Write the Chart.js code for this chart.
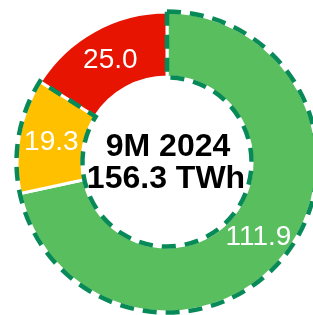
<!DOCTYPE html>
<html>
<head>
<meta charset="utf-8">
<script src="https://cdn.jsdelivr.net/npm/chart.js@4/dist/chart.umd.min.js"></script>
<style>
html,body{margin:0;padding:0;overflow:hidden;background:#fff;width:313px;height:315px;}
#wrap{position:absolute;left:0;top:0;width:334px;height:324px;}
</style>
</head>
<body>
<div id="wrap"><canvas id="c"></canvas></div>
<script>
const categories = ["Green", "Yellow", "Red"];
const values = [111.9, 19.3, 25.0];
const colors = ["#58be5e", "#ffc000", "#e61400"];
const centerLines = ["9M 2024", "156.3 TWh"];
const groupedCount = 2; // first two segments outlined with dashes

const dashOutline = {
  id: 'dashOutline',
  afterDatasetsDraw(chart) {
    const meta = chart.getDatasetMeta(0);
    const a0 = meta.data[0], a1 = meta.data[groupedCount - 1];
    const ctx = chart.ctx;
    const x = a0.x, y = a0.y;
    const R = a0.outerRadius + 0.5, r = a0.innerRadius - 0.5;
    const s = a0.startAngle, e = a1.endAngle;
    ctx.save();
    ctx.strokeStyle = '#078a58';
    ctx.lineWidth = 4.5;
    ctx.setLineDash([14, 9]);
    ctx.beginPath();
    ctx.arc(x, y, R, s, e, false);
    ctx.lineTo(x + r * Math.cos(e), y + r * Math.sin(e));
    ctx.arc(x, y, r, e, s, true);
    ctx.closePath();
    ctx.stroke();
    ctx.restore();
  },
  afterDraw(chart) {
    const meta = chart.getDatasetMeta(0);
    const ctx = chart.ctx;
    ctx.save();
    ctx.fillStyle = '#ffffff';
    ctx.font = "28px 'Liberation Sans', Arial, sans-serif";
    ctx.textAlign = 'center';
    ctx.textBaseline = 'middle';
    meta.data.forEach((arc, i) => {
      const p = arc.tooltipPosition();
      ctx.fillText(values[i].toFixed(1), p.x, p.y + 1);
    });
    const cx = meta.data[0].x, cy = meta.data[0].y;
    ctx.fillStyle = '#000000';
    ctx.font = "bold 32px 'Liberation Sans', Arial, sans-serif";
    ctx.fillText(centerLines[0], cx + 1, cy - 15);
    ctx.fillText(centerLines[1], cx - 1, cy + 17);
    ctx.restore();
  }
};

new Chart(document.getElementById('c'), {
  type: 'doughnut',
  data: {
    labels: categories,
    datasets: [{
      data: values,
      backgroundColor: colors,
      borderColor: '#ffffff',
      borderWidth: 3
    }]
  },
  options: {
    responsive: true,
    maintainAspectRatio: false,
    animation: false,
    radius: 150,
    cutout: 91,
    layout: { padding: 0 },
    plugins: { legend: { display: false }, tooltip: { enabled: false } }
  },
  plugins: [dashOutline]
});
</script>
</body>
</html>
